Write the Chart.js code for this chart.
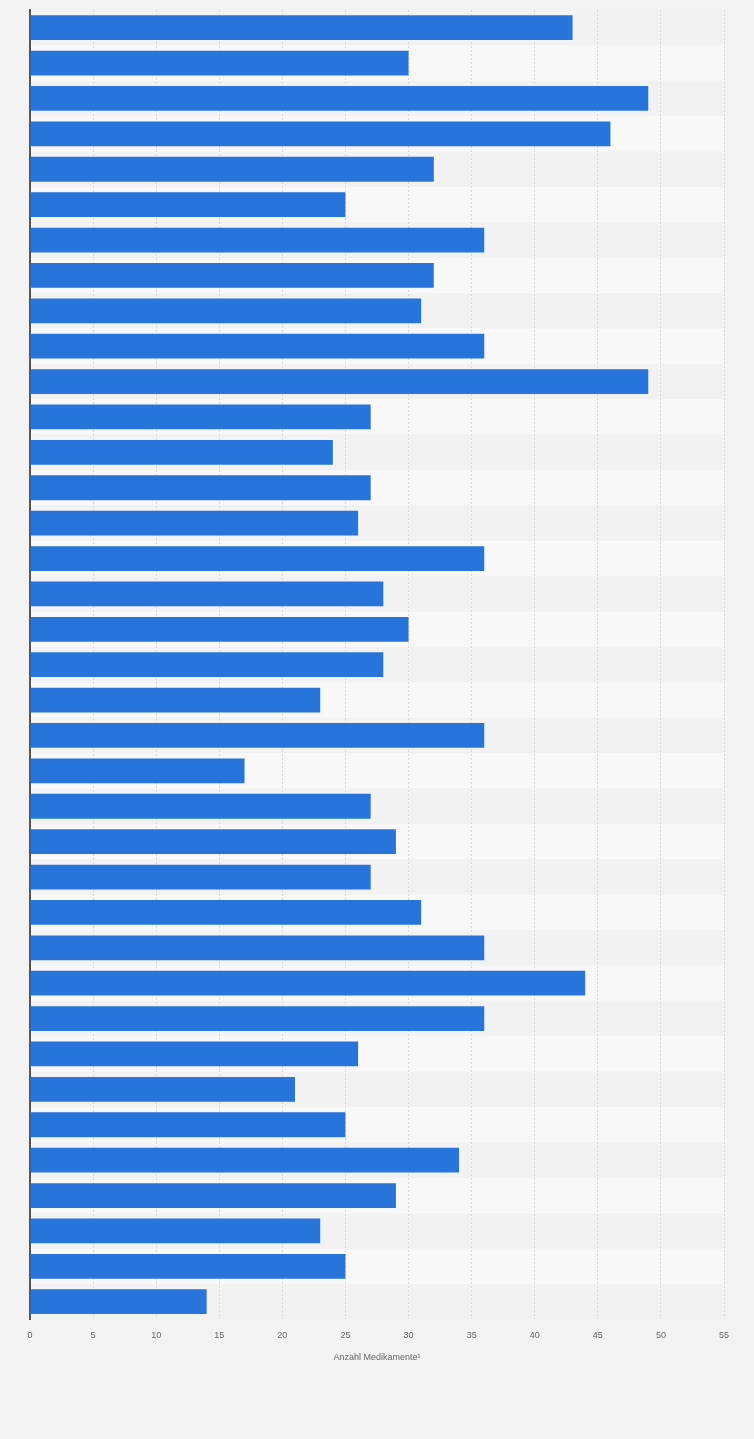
<!DOCTYPE html>
<html>
<head>
<meta charset="utf-8">
<script src="https://cdn.jsdelivr.net/npm/chart.js@4"></script>
<style>
  body { margin: 0; background: #f3f3f3; }
  #wrap { width: 754px; height: 1439px; }
</style>
</head>
<body>
<div id="wrap"><canvas id="medChart" width="754" height="1439"></canvas></div>
<script>
// categories are not labelled in the picture, so they're just numbered
const categories = Array.from({ length: 37 }, (_, i) => 'Kategorie ' + (i + 1));
const values = [43, 30, 49, 46, 32, 25, 36, 32, 31, 36, 49, 27, 24, 27, 26, 36, 28, 30, 28, 23,
  36, 17, 27, 29, 27, 31, 36, 44, 36, 26, 21, 25, 34, 29, 23, 25, 14];
const xTicks = [0, 5, 10, 15, 20, 25, 30, 35, 40, 45, 50, 55];
const xTitle = 'Anzahl Medikamente¹';

// alternating row bands behind the bars
const stripes = {
  id: 'stripes',
  beforeDraw(chart) {
    const { ctx, chartArea, scales } = chart;
    ctx.save();
    ctx.fillStyle = '#f3f3f3';
    ctx.fillRect(0, 0, chart.width, chart.height);
    const band = chartArea.height / categories.length;
    categories.forEach((c, i) => {
      const yc = scales.y.getPixelForValue(i);
      ctx.fillStyle = i % 2 === 0 ? '#f2f2f2' : '#f8f8f8';
      ctx.fillRect(chartArea.left, yc - band / 2, chartArea.right - chartArea.left, band);
    });
    ctx.restore();
  }
};

const ctx = document.getElementById('medChart').getContext('2d');
new Chart(ctx, {
  type: 'bar',
  data: {
    labels: categories,
    datasets: [{
      data: values,
      backgroundColor: '#2775db',
      barPercentage: 0.7,
      categoryPercentage: 1.0
    }]
  },
  options: {
    indexAxis: 'y',
    responsive: false,
    animation: false,
    layout: { padding: { left: 22, right: 30, top: 10, bottom: 72 } },
    plugins: {
      legend: { display: false },
      tooltip: { enabled: false }
    },
    scales: {
      x: {
        min: 0,
        max: 55,
        afterBuildTicks(axis) { axis.ticks = xTicks.map(v => ({ value: v })); },
        grid: { color: '#dadada', drawTicks: false, lineWidth: 1 },
        border: { display: false, dash: [2, 2] },
        ticks: {
          color: '#666',
          font: { family: 'Liberation Sans', size: 9 },
          padding: 11
        },
        title: {
          display: true,
          text: xTitle,
          color: '#666',
          font: { family: 'Liberation Sans', size: 9 },
          padding: { top: 0 }
        }
      },
      y: {
        grid: { display: false },
        border: { display: true, color: '#555', width: 2 },
        ticks: { display: false }
      }
    }
  },
  plugins: [stripes]
});
</script>
</body>
</html>
